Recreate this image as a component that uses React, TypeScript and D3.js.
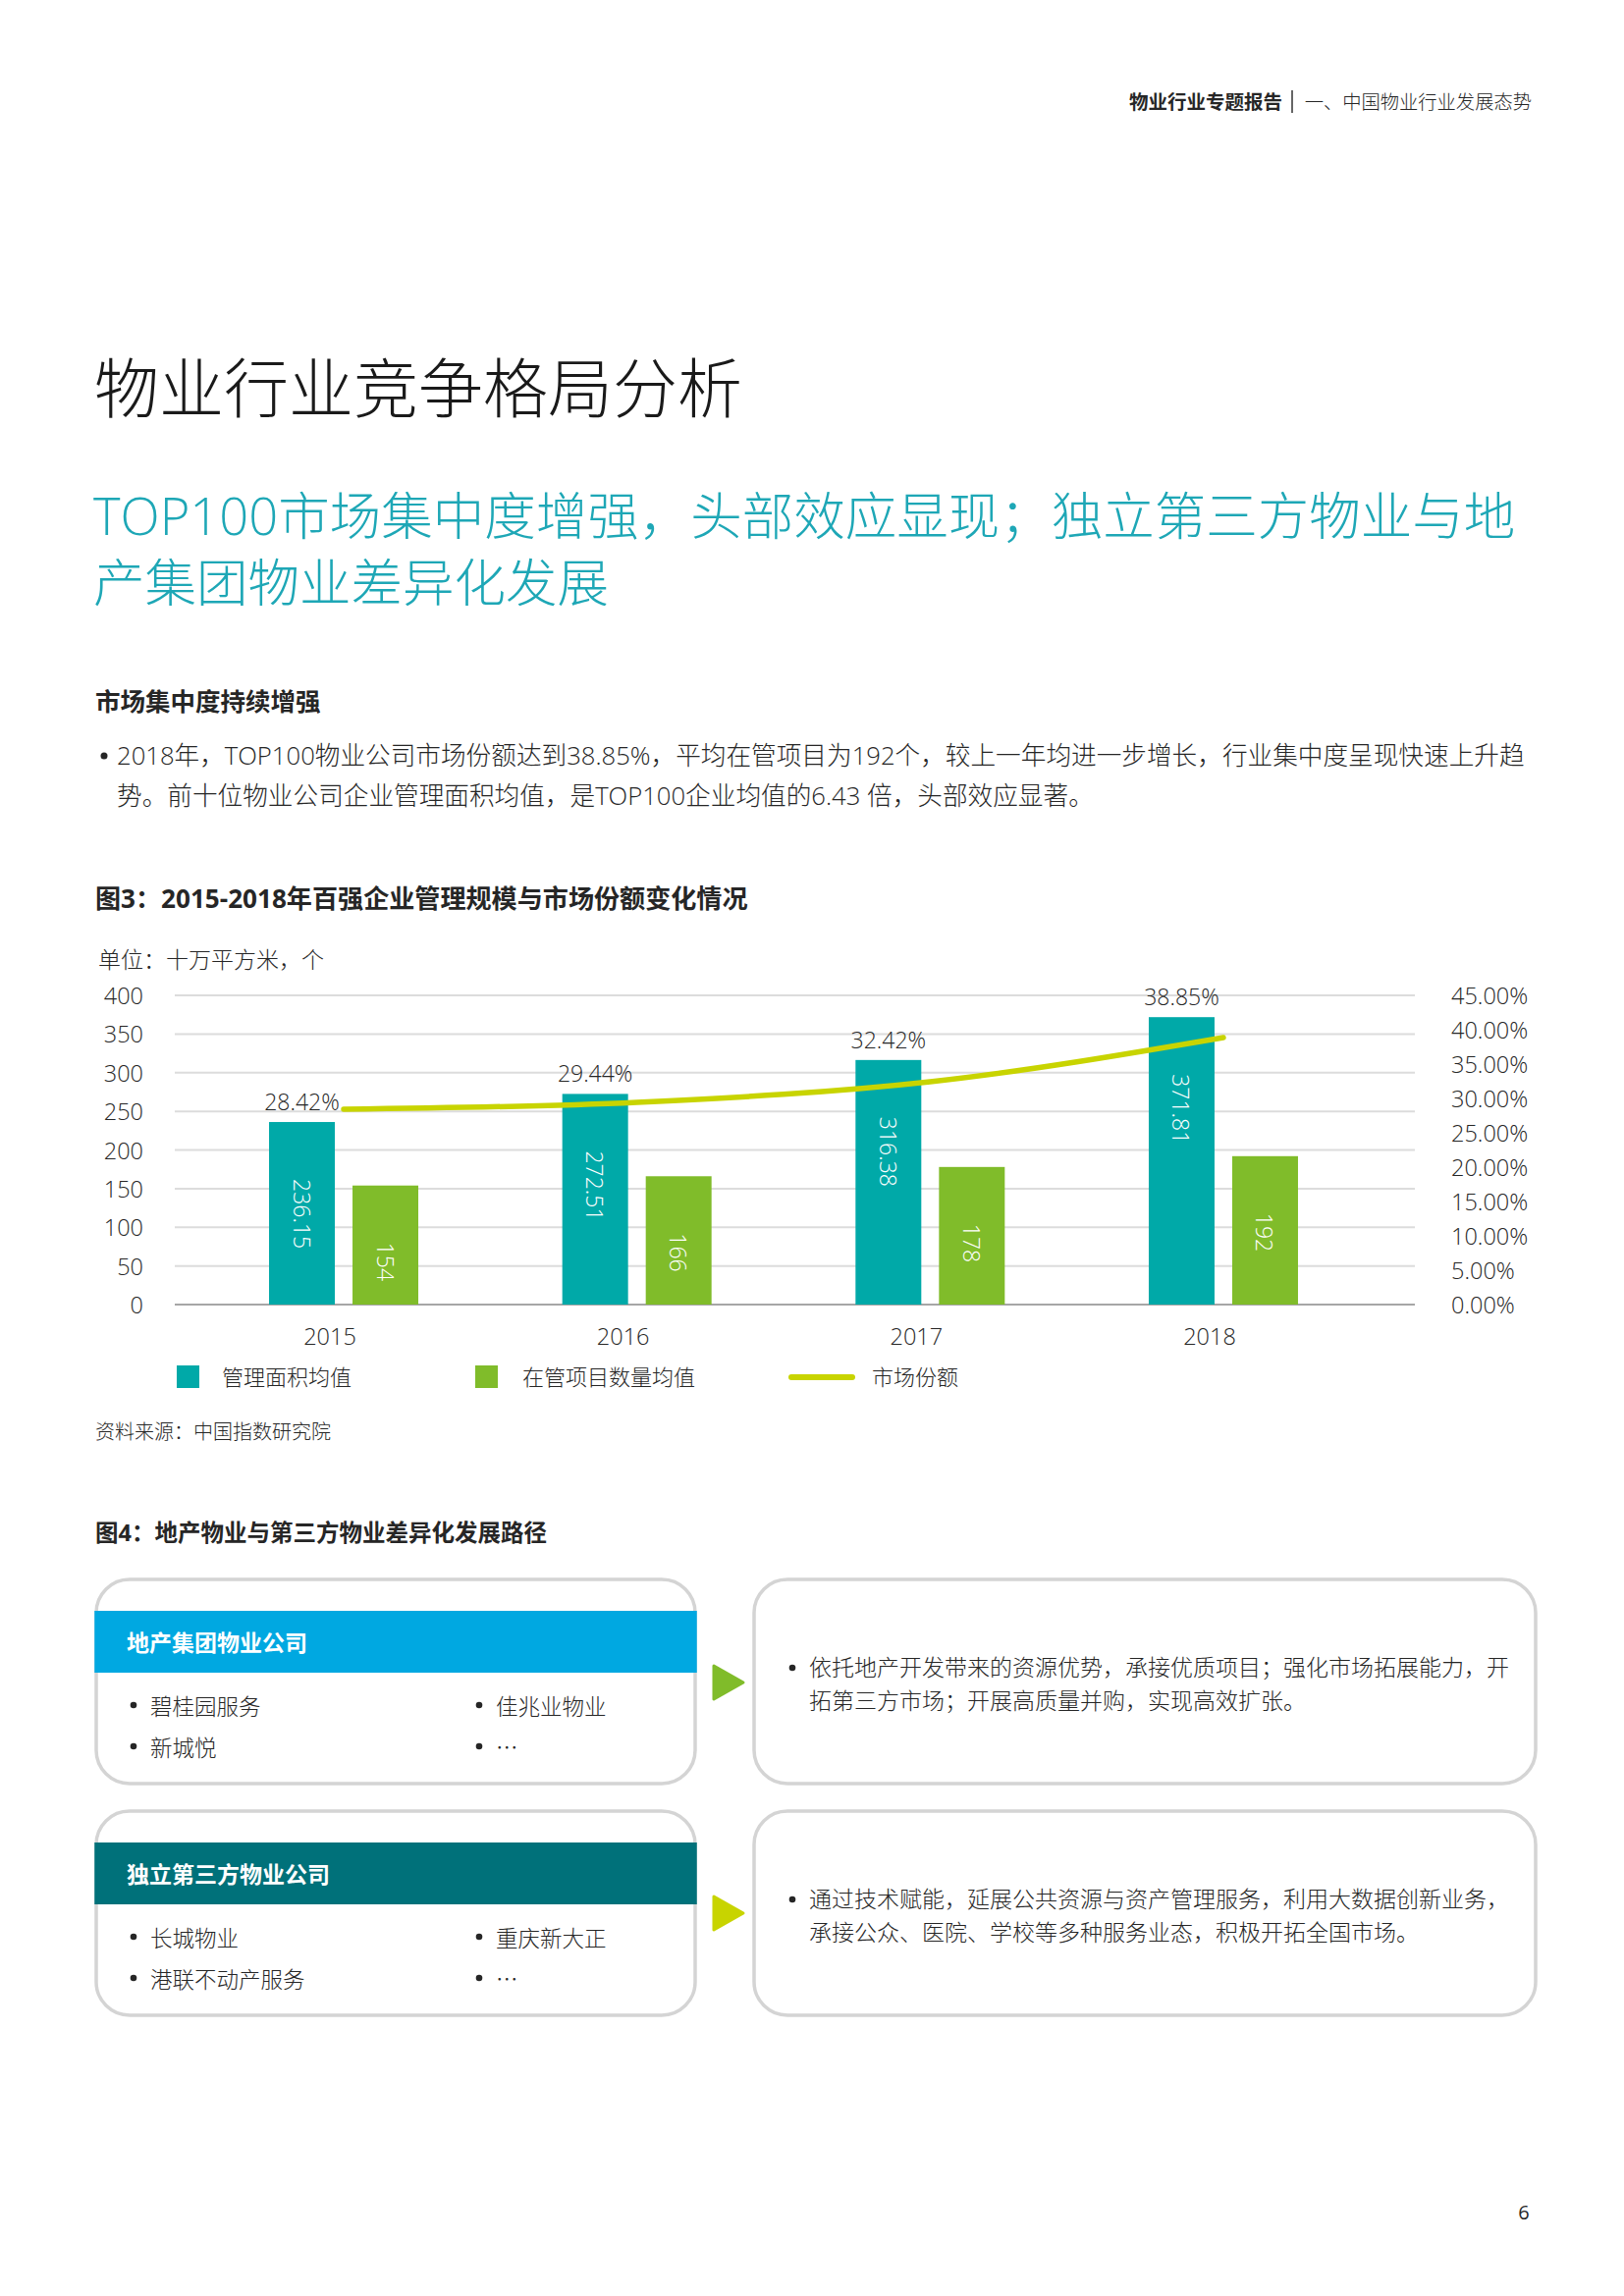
import React from "react";
import * as d3 from "d3";

// chart data
const years = ["2015", "2016", "2017", "2018"];
const areaAvg = [236.15, 272.51, 316.38, 371.81];
const projectAvg = [154, 166, 178, 192];
const marketShare = [0.2842, 0.2944, 0.3242, 0.3885];

const seriesKeys = ["area", "project"];
const legendLabels = ["管理面积均值", "在管项目数量均值", "市场份额"];

// fig 4 lists
const developerCos = ["碧桂园服务", "佳兆业物业", "新城悦", "…"];
const thirdPartyCos = ["长城物业", "重庆新大正", "港联不动产服务", "…"];
const developerPath = [
  "依托地产开发带来的资源优势，承接优质项目；强化市场拓展能力，开",
  "拓第三方市场；开展高质量并购，实现高效扩张。",
];
const thirdPartyPath = [
  "通过技术赋能，延展公共资源与资产管理服务，利用大数据创新业务，",
  "承接公众、医院、学校等多种服务业态，积极开拓全国市场。",
];

const W = 1654;
const H = 2339;
const FONT = "'Open Sans', 'Noto Sans CJK SC', sans-serif";
const CJK = "'Noto Sans CJK SC', sans-serif";
const TEAL = "#00a9a8";
const GREEN = "#80bc2a";
const LIME = "#c8d400";
const TEXT = "#262626";

const plot = { left: 178, right: 1441, top: 1014, bottom: 1329 };

const Box = ({ x, y, w, h, children }: any) => (
  <g>
    <rect x={x} y={y} width={w} height={h} rx={34} ry={34} fill="#fff" stroke="#d4d4d4" strokeWidth={3.5} />
    {children}
  </g>
);

const Bullet = ({ x, y, text, size = 22.5 }: any) => (
  <g>
    <circle cx={x} cy={y} r={3.3} fill={TEXT} />
    <text x={x + 17} y={y} fontSize={size} fill={TEXT} dominantBaseline="central" fontWeight={300} fontFamily={CJK}>
      {text}
    </text>
  </g>
);

const CompanyBox = ({ y, title, color, items }: any) => {
  const x = 98;
  const w = 610;
  return (
    <Box x={x} y={y} w={w} h={208}>
      <rect x={x - 1.75} y={y + 32} width={w + 3.5} height={63} fill={color} />
      <text x={129} y={y + 64} fill="#fff" fontSize={23} fontWeight={700} dominantBaseline="central">
        {title}
      </text>
      {items.map((t: string, i: number) => (
        <Bullet key={t + i} x={i % 2 === 0 ? 136 : 488} y={y + 128 + Math.floor(i / 2) * 42} text={t} />
      ))}
    </Box>
  );
};

const PathBox = ({ y, lines }: any) => (
  <Box x={768} y={y} w={796} h={208}>
    <circle cx={807} cy={y + 90} r={3.3} fill={TEXT} />
    {lines.map((t: string, i: number) => (
      <text key={i} x={824} y={y + 89 + i * 34} fontSize={23} fill={TEXT} dominantBaseline="central" fontWeight={300}>
        {t}
      </text>
    ))}
  </Box>
);

const Arrow = ({ cy, color }: any) => (
  <path
    d={`M727,${cy - 17} L757,${cy} L727,${cy + 17} Z`}
    fill={color}
    stroke={color}
    strokeWidth={3}
    strokeLinejoin="round"
  />
);

const Chart = () => {
  const x = d3.scaleBand<string>().domain(years).range([186.7, 1381.3]).padding(0);
  const inner = d3.scaleBand<string>().domain(seriesKeys).range([-62, 90]).paddingInner(0.212);
  const yL = d3.scaleLinear().domain([0, 400]).range([plot.bottom, plot.top]);
  const yR = d3.scaleLinear().domain([0, 0.45]).range([plot.bottom, plot.top]);
  const center = (yr: string) => (x(yr) as number) + x.bandwidth() / 2;
  const pct = d3.format(".2%");

  const lineGen = d3
    .line<number>()
    .x((_, i) => center(years[i]) + 14)
    .y((d) => yR(d))
    .curve(d3.curveMonotoneX);

  const values: Record<string, number[]> = { area: areaAvg, project: projectAvg };
  const colors: Record<string, string> = { area: TEAL, project: GREEN };

  return (
    <g fontFamily={FONT}>
      <text x={100} y={977} fontSize={23} fill={TEXT} dominantBaseline="central" fontWeight={300}>
        单位：十万平方米，个
      </text>

      {yL.ticks(8).map((t) => (
        <g key={t}>
          <line
            x1={plot.left}
            x2={plot.right}
            y1={yL(t)}
            y2={yL(t)}
            stroke={t === 0 ? "#a6a6a6" : "#dcdcdc"}
            strokeWidth={2}
          />
          <text x={146} y={yL(t)} textAnchor="end" dominantBaseline="central" fontSize={23.5} fill={TEXT} fontWeight={300}>
            {t}
          </text>
        </g>
      ))}

      {yR.ticks(9).map((t) => (
        <text key={t} x={1478} y={yR(t)} dominantBaseline="central" fontSize={23.5} fill={TEXT} fontWeight={300}>
          {pct(t)}
        </text>
      ))}

      {years.map((yr, i) => (
        <g key={yr}>
          {seriesKeys.map((k) => {
            const v = values[k][i];
            const bx = center(yr) + (inner(k) as number);
            const top = yL(v);
            return (
              <g key={k}>
                <rect x={bx} y={top} width={inner.bandwidth()} height={yL(0) - top} fill={colors[k]} />
                <text
                  transform={`translate(${bx + inner.bandwidth() / 2},${top + 58}) rotate(90)`}
                  fill="#fff"
                  fontSize={23}
                  dominantBaseline="central"
                  fontWeight={300}
                >
                  {v}
                </text>
              </g>
            );
          })}
          <text
            x={center(yr) + (inner("area") as number) + inner.bandwidth() / 2}
            y={yL(areaAvg[i]) - 21}
            textAnchor="middle"
            dominantBaseline="central"
            fontSize={23}
            fill={TEXT}
            fontWeight={300}
          >
            {pct(marketShare[i])}
          </text>
          <text x={center(yr)} y={1361} textAnchor="middle" dominantBaseline="central" fontSize={23.5} fill={TEXT} fontWeight={300}>
            {yr}
          </text>
        </g>
      ))}

      <path d={lineGen(marketShare) || ""} fill="none" stroke={LIME} strokeWidth={5.5} strokeLinecap="round" />

      {/* legend */}
      <rect x={180} y={1391} width={23} height={23} fill={TEAL} />
      <text x={226} y={1402} fontSize={22} fill={TEXT} dominantBaseline="central" fontWeight={300}>
        {legendLabels[0]}
      </text>
      <rect x={484} y={1391} width={23} height={23} fill={GREEN} />
      <text x={532} y={1402} fontSize={22} fill={TEXT} dominantBaseline="central" fontWeight={300}>
        {legendLabels[1]}
      </text>
      <line x1={806} x2={868} y1={1403} y2={1403} stroke={LIME} strokeWidth={6} strokeLinecap="round" />
      <text x={888} y={1402} fontSize={22} fill={TEXT} dominantBaseline="central" fontWeight={300}>
        {legendLabels[2]}
      </text>

      <text x={97} y={1458} fontSize={20} fill={TEXT} dominantBaseline="central" fontWeight={300}>
        资料来源：中国指数研究院
      </text>
    </g>
  );
};

export default function App() {
  return (
    <div style={{ position: "absolute", left: 0, top: 0 }}>
      <svg width={W} height={H} viewBox={`0 0 ${W} ${H}`} fontFamily={FONT} style={{ display: "block", background: "#fff" }}>
        {/* running header */}
        <text x={1306} y={103} textAnchor="end" fontSize={19.5} fontWeight={700} fill={TEXT} dominantBaseline="central">
          物业行业专题报告
        </text>
        <line x1={1316} x2={1316} y1={92} y2={115} stroke="#333" strokeWidth={1.5} />
        <text x={1560} y={103} textAnchor="end" fontSize={19.3} fill={TEXT} dominantBaseline="central" fontWeight={300}>
          一、中国物业行业发展态势
        </text>

        <text x={96} y={394} fontSize={66} fill="#1a1a1a" fontWeight={300} dominantBaseline="central">
          物业行业竞争格局分析
        </text>

        <text x={95} y={524} fontSize={52.5} fill="#1ea7b6" fontWeight={300} dominantBaseline="central">
          TOP100市场集中度增强，头部效应显现；独立第三方物业与地
        </text>
        <text x={95} y={592} fontSize={52.5} fill="#1ea7b6" fontWeight={300} dominantBaseline="central">
          产集团物业差异化发展
        </text>

        <text x={97} y={714} fontSize={25.5} fontWeight={700} fill={TEXT} dominantBaseline="central">
          市场集中度持续增强
        </text>
        <circle cx={106} cy={770} r={3.5} fill={TEXT} />
        <text x={119} y={769} fontSize={25.65} fill={TEXT} dominantBaseline="central" fontWeight={300}>
          2018年，TOP100物业公司市场份额达到38.85%，平均在管项目为192个，较上一年均进一步增长，行业集中度呈现快速上升趋
        </text>
        <text x={119} y={810} fontSize={25.65} fill={TEXT} dominantBaseline="central" fontWeight={300}>
          势。前十位物业公司企业管理面积均值，是TOP100企业均值的6.43 倍，头部效应显著。
        </text>

        <text x={97} y={915} fontSize={26.1} fontWeight={700} fill={TEXT} dominantBaseline="central">
          图3：2015-2018年百强企业管理规模与市场份额变化情况
        </text>

        <Chart />

        <text x={97} y={1561} fontSize={23.5} fontWeight={700} fill={TEXT} dominantBaseline="central">
          图4：地产物业与第三方物业差异化发展路径
        </text>

        <CompanyBox y={1609} title="地产集团物业公司" color="#00a8e1" items={developerCos} />
        <Arrow cy={1714} color={GREEN} />
        <PathBox y={1609} lines={developerPath} />

        <CompanyBox y={1845} title="独立第三方物业公司" color="#00717a" items={thirdPartyCos} />
        <Arrow cy={1949} color={LIME} />
        <PathBox y={1845} lines={thirdPartyPath} />

        <text x={1552} y={2253} textAnchor="middle" fontSize={20} fill={TEXT} dominantBaseline="central">
          6
        </text>
      </svg>
    </div>
  );
}
